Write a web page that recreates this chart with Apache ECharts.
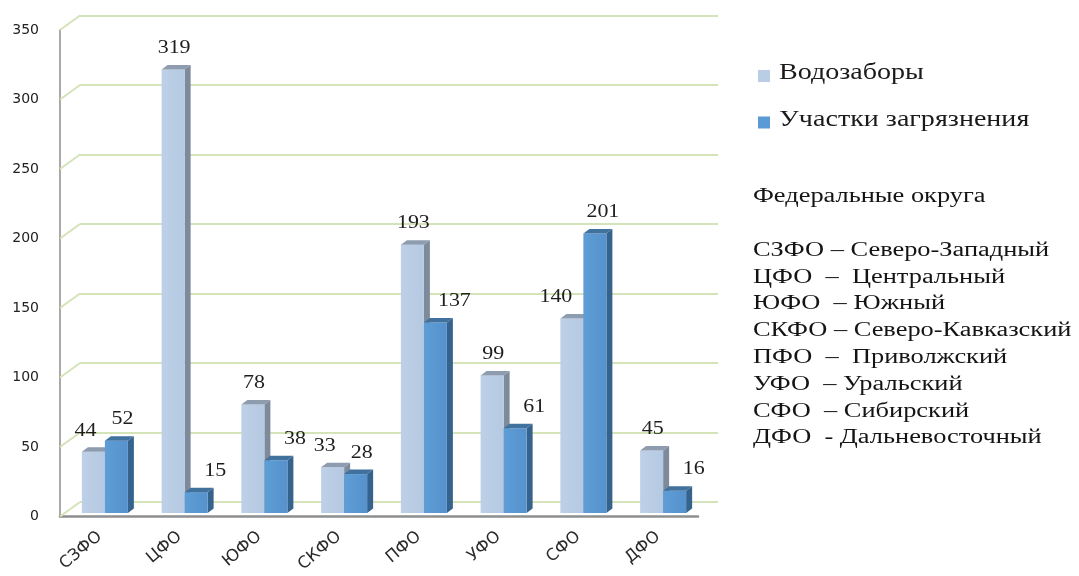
<!DOCTYPE html>
<html>
<head>
<meta charset="utf-8">
<script src="https://cdn.jsdelivr.net/npm/echarts@6/dist/echarts.min.js"></script>
<style>
  html, body { margin: 0; padding: 0; background: #fff; }
  #chart { width: 1079px; height: 576px; }
</style>
</head>
<body>
<div id="chart"></div>
<script>
// Federal districts and counts per district
const districts = ['СЗФО', 'ЦФО', 'ЮФО', 'СКФО', 'ПФО', 'УФО', 'СФО', 'ДФО'];
const waterIntakes = [44, 319, 78, 33, 193, 99, 140, 45];
const pollutionSites = [52, 15, 38, 28, 137, 61, 201, 16];
const valueTicks = [0, 50, 100, 150, 200, 250, 300, 350];
const seriesNames = ['Водозаборы', 'Участки загрязнения'];
const districtNotes = [
  'Федеральные округа',
  '',
  'СЗФО – Северо-Западный',
  'ЦФО  –  Центральный',
  'ЮФО  – Южный',
  'СКФО – Северо-Кавказский',
  'ПФО  –  Приволжский',
  'УФО  – Уральский',
  'СФО  – Сибирский',
  'ДФО  - Дальневосточный'
];

// 3D look: depth of the plot box and of each bar
const WALL_DX = 20, WALL_DY = 14.5;        // back wall -> front edge
const BAR_SHIFT_X = -15, BAR_SHIFT_Y = 11; // bars sit near the front
const BAR_W = 23, BAR_DX = 6, BAR_DY = 4.5;
const SERIF = '"Liberation Serif", "Times New Roman", serif';

const palette = [
  { front: ['#BDD0E7', '#B5C9E2'], side: '#7D8A9B', top: '#8E9CB0', key: '#B9CDE5' },
  { front: ['#5E9DD6', '#5692CD'], side: '#35638E', top: '#41719D', key: '#5B9BD5' }
];

const yMin = valueTicks[0];
const yMax = valueTicks[valueTicks.length - 1];
const yStep = valueTicks[1] - valueTicks[0];

// keeps paired value labels from colliding
function labelShift(isDark, own, other) {
  if (Math.abs(own - other) < 12) return isDark ? 5 : -9;
  if (isDark) return other > own ? 18 : 7;
  return other > own ? -17 : 0;
}

function barRenderer(sIdx) {
  const col = palette[sIdx];
  return function (params, api) {
    const cat = api.value(0);
    const v = api.value(1);
    const other = api.value(2);
    const top = api.coord([cat, v]);
    const base = api.coord([cat, 0]);
    const x0 = top[0] + BAR_SHIFT_X + (sIdx === 0 ? -BAR_W : 0);
    const yTop = top[1] + BAR_SHIFT_Y;
    const yBot = base[1] + BAR_SHIFT_Y;
    const x1 = x0 + BAR_W;
    const lx = x0 + BAR_W / 2 + 1 + labelShift(sIdx === 1, v, other);
    return {
      type: 'group',
      children: [
        {
          type: 'polygon',
          shape: { points: [[x1, yTop], [x1 + BAR_DX, yTop - BAR_DY], [x1 + BAR_DX, yBot - BAR_DY], [x1, yBot]] },
          style: { fill: col.side }
        },
        {
          type: 'rect',
          shape: { x: x0, y: yTop, width: BAR_W, height: yBot - yTop },
          style: {
            fill: new echarts.graphic.LinearGradient(0, 0, 1, 0, [
              { offset: 0, color: col.front[0] },
              { offset: 1, color: col.front[1] }
            ])
          }
        },
        {
          type: 'polygon',
          shape: { points: [[x0, yTop], [x0 + BAR_DX, yTop - BAR_DY], [x1 + BAR_DX, yTop - BAR_DY], [x1, yTop]] },
          style: { fill: col.top }
        },
        {
          type: 'text',
          x: lx,
          y: yTop - 21,
          scaleX: 1.22,
          style: {
            text: String(v),
            x: 0,
            y: 0,
            align: 'center',
            verticalAlign: 'middle',
            font: '18px ' + SERIF,
            fill: '#1e1e1e'
          }
        }
      ]
    };
  };
}

// left wall: diagonal from the front axis to the back wall for each tick
function wallRenderer(params, api) {
  const p = api.coord([0, api.value(1)]);
  const cs = params.coordSys;
  return {
    type: 'line',
    shape: { x1: cs.x - WALL_DX, y1: p[1] + WALL_DY, x2: cs.x, y2: p[1] },
    style: { stroke: '#D4E3B8', lineWidth: 2 }
  };
}

// legend keys and the district notes, drawn as wide serif text
const legendGraphics = seriesNames.map((name, i) => ({
  type: 'group',
  x: 758,
  y: 73 + i * 46.5,
  children: [
    { type: 'rect', shape: { x: 0, y: -3, width: 12, height: 12 }, style: { fill: palette[i].key } },
    {
      type: 'text', x: 21, y: 0, scaleX: 1.22,
      style: { text: name, x: 0, y: 0, verticalAlign: 'middle', font: '23px ' + SERIF, fill: '#1a1a1a' }
    }
  ]
}));

const notesGraphic = {
  type: 'text',
  x: 753,
  y: 183.5,
  scaleX: 1.32,
  style: {
    text: districtNotes.join('\n'),
    x: 0,
    y: 0,
    font: '20px ' + SERIF,
    lineHeight: 26.8,
    fill: '#141414'
  }
};

const chart = echarts.init(document.getElementById('chart'), null, { renderer: 'canvas' });

const valueAxisBase = { type: 'value', min: yMin, max: yMax, interval: yStep };

chart.setOption({
  animation: false,
  backgroundColor: '#ffffff',
  graphic: legendGraphics.concat([notesGraphic]),
  grid: [
    { left: 80, top: 15.5, width: 638, height: 486.5 },   // back wall
    { left: 60, top: 30, width: 638, height: 486.5 }      // front edge
  ],
  xAxis: [
    {
      gridIndex: 0, type: 'category', data: districts,
      axisLine: { show: false }, axisTick: { show: false }, axisLabel: { show: false }
    },
    {
      gridIndex: 1, type: 'category', data: districts,
      axisLine: { show: true, lineStyle: { color: '#8E8E8E', width: 2.5 } },
      axisTick: { show: false },
      axisLabel: {
        rotate: 40, margin: 18,
        fontFamily: '"DejaVu Sans"', fontSize: 16.5, color: '#2a2a2a'
      }
    }
  ],
  yAxis: [
    Object.assign({}, valueAxisBase, {
      gridIndex: 0,
      axisLine: { show: false }, axisTick: { show: false }, axisLabel: { show: false },
      splitLine: { show: true, lineStyle: { color: '#D4E3B8', width: 2 } }
    }),
    Object.assign({}, valueAxisBase, {
      gridIndex: 1,
      axisLine: { show: true, lineStyle: { color: '#A9A9A9', width: 2 } },
      axisTick: { show: false },
      splitLine: { show: false },
      axisLabel: { margin: 21, fontFamily: '"DejaVu Sans"', fontSize: 14, color: '#222' }
    })
  ],
  series: [
    {
      type: 'custom', name: 'wall', xAxisIndex: 0, yAxisIndex: 0, silent: true, z: 1,
      renderItem: wallRenderer,
      data: valueTicks.map(v => [0, v])
    },
    {
      type: 'custom', name: seriesNames[0], xAxisIndex: 0, yAxisIndex: 0, z: 3,
      itemStyle: { color: palette[0].key },
      renderItem: barRenderer(0),
      encode: { x: 0, y: 1 },
      data: waterIntakes.map((v, i) => [i, v, pollutionSites[i]])
    },
    {
      type: 'custom', name: seriesNames[1], xAxisIndex: 0, yAxisIndex: 0, z: 4,
      itemStyle: { color: palette[1].key },
      renderItem: barRenderer(1),
      encode: { x: 0, y: 1 },
      data: pollutionSites.map((v, i) => [i, v, waterIntakes[i]])
    }
  ]
});
</script>
</body>
</html>
